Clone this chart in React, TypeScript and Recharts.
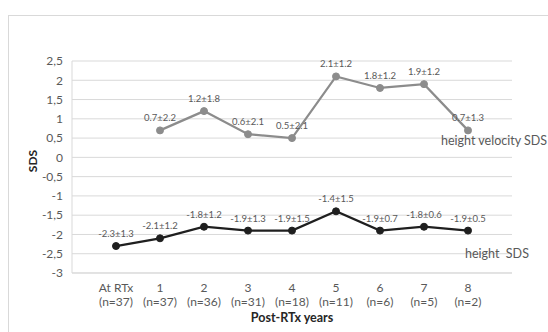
import React from 'react';
import { LineChart, Line, XAxis, YAxis, CartesianGrid, LabelList } from 'recharts';

const categories = ['At RTx', '1', '2', '3', '4', '5', '6', '7', '8'];
const nCounts = [37, 37, 36, 31, 18, 11, 6, 5, 2];
const velocitySds = [null, 0.7, 1.2, 0.6, 0.5, 2.1, 1.8, 1.9, 0.7];
const velocitySd = [null, 2.2, 1.8, 2.1, 2.1, 1.2, 1.2, 1.2, 1.3];
const heightSds = [-2.3, -2.1, -1.8, -1.9, -1.9, -1.4, -1.9, -1.8, -1.9];
const heightSd = [1.3, 1.2, 1.2, 1.3, 1.5, 1.5, 0.7, 0.6, 0.5];
const yTicks = [2.5, 2, 1.5, 1, 0.5, 0, -0.5, -1, -1.5, -2, -2.5, -3];

const data = categories.map((cat, i) => ({
  cat,
  n: nCounts[i],
  velocity: velocitySds[i],
  height: heightSds[i],
}));

const FONT = 'Lato, "Open Sans", sans-serif';
const TEXT = '#595959';

const CategoryTick = (props: any) => {
  const { x, y, payload } = props;
  const i = categories.indexOf(payload.value);
  return (
    <g>
      <text x={x} y={y + 17} textAnchor="middle" fontSize={12} fill={TEXT} fontFamily={FONT}>
        {payload.value}
      </text>
      <text x={x} y={y + 31} textAnchor="middle" fontSize={12} fill={TEXT} fontFamily={FONT}>
        (n={nCounts[i]})
      </text>
    </g>
  );
};

// value labels plus the series name next to the last point
const makeLabel = (sds: (number | null)[], name: string, dx: number, dy: number) => (props: any) => {
  const { x, y, index, value } = props;
  if (value == null) return null;
  const sd = sds[index];
  return (
    <g>
      <text x={x} y={y - 9} textAnchor="middle" fontSize={9.5} fill={TEXT} fontFamily={FONT}>
        {`${value}±${sd}`}
      </text>
      {index === categories.length - 1 && (
        <text x={x + dx} y={y + dy} fontSize={12.5} fill={TEXT} fontFamily={FONT} style={{ whiteSpace: 'pre' }}>
          {name}
        </text>
      )}
    </g>
  );
};

const YTitle = (props: any) => {
  const { viewBox } = props;
  const cx = viewBox.x + 5;
  const cy = viewBox.y + viewBox.height / 2 - 6;
  return (
    <text
      x={cx}
      y={cy}
      transform={`rotate(-90 ${cx} ${cy})`}
      textAnchor="middle"
      fontSize={12}
      fontWeight="bold"
      fill="#262626"
      fontFamily={FONT}
    >
      SDS
    </text>
  );
};

const App = () => {
  return (
    <div
      style={{
        position: 'fixed',
        left: 8,
        top: 15,
        width: 540,
        height: 317,
        borderTop: '1px solid #d9d9d9',
        borderLeft: '1px solid #d9d9d9',
        boxSizing: 'border-box',
        overflow: 'hidden',
        background: '#fff',
      }}
    >
      <LineChart width={539} height={316} data={data} margin={{ top: 45, right: 36, left: 23, bottom: 3 }}>
        <CartesianGrid vertical={false} stroke="#d9d9d9" />
        <XAxis
          dataKey="cat"
          padding={{ left: 44, right: 44 }}
          axisLine={{ stroke: '#d9d9d9' }}
          tickLine={false}
          tickSize={0}
          tick={<CategoryTick />}
          height={56}
          interval={0}
          label={{
            value: 'Post-RTx years',
            position: 'insideBottom',
            offset: 7,
            fontSize: 12.5,
            fontWeight: 'bold',
            fill: '#262626',
            fontFamily: FONT,
          }}
        />
        <YAxis
          width={40}
          domain={[-3, 2.5]}
          ticks={yTicks}
          interval={0}
          axisLine={{ stroke: '#d9d9d9' }}
          tickLine={false}
          tickSize={0}
          tickMargin={9}
          tick={{ fontSize: 12, fill: TEXT, fontFamily: FONT }}
          tickFormatter={(v: number) => String(v).replace('.', ',')}
          label={<YTitle />}
        />
        <Line
          dataKey="velocity"
          stroke="#8c8c8c"
          strokeWidth={2.25}
          dot={{ r: 3.5, fill: '#8c8c8c', stroke: '#8c8c8c', strokeWidth: 1 }}
          isAnimationActive={false}
        >
          <LabelList dataKey="velocity" content={makeLabel(velocitySd, 'height velocity SDS', -27, 15)} />
        </Line>
        <Line
          dataKey="height"
          stroke="#1f1f1f"
          strokeWidth={2.25}
          dot={{ r: 3.5, fill: '#1f1f1f', stroke: '#1f1f1f', strokeWidth: 1 }}
          isAnimationActive={false}
        >
          <LabelList dataKey="height" content={makeLabel(heightSd, 'height  SDS', -3, 27)} />
        </Line>
      </LineChart>
    </div>
  );
};

export default App;
